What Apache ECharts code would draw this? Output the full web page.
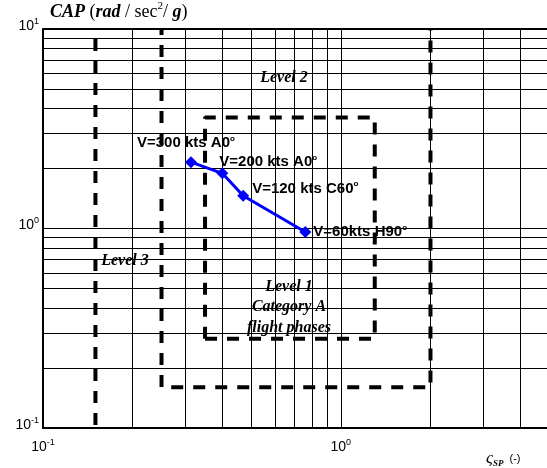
<!DOCTYPE html>
<html>
<head>
<meta charset="utf-8">
<script src="https://cdn.jsdelivr.net/npm/echarts@6/dist/echarts.min.js"></script>
<style>
  html, body { margin: 0; padding: 0; background: #ffffff; }
  #chart { width: 547px; height: 468px; }
</style>
</head>
<body>
<div id="chart"></div>
<script>
// Flight conditions: short-period damping ratio vs CAP
const dampingRatio = [0.314, 0.40, 0.47, 0.76];
const capValues = [2.15, 1.89, 1.46, 0.96];
const pointNames = ['V=300 kts A0', 'V=200 kts A0', 'V=120 kts C60', 'V=60kts H90'];

// Flying-quality level boundaries
const level1Damping = [0.35, 1.3, 1.3, 0.35, 0.35];
const level1Cap = [0.28, 0.28, 3.6, 3.6, 0.28];
const level2Damping = [0.25, 0.25, 2.0, 2.0];
const level2Cap = [10, 0.16, 0.16, 10];
const level3Damping = [0.15, 0.15];
const level3Cap = [10, 0.1];

// Log grid positions
const xGridValues = [0.2, 0.3, 0.4, 0.5, 0.6, 0.7, 0.8, 0.9, 1, 2, 3, 4];
const yGridValues = [0.2, 0.3, 0.4, 0.5, 0.6, 0.7, 0.8, 0.9, 1, 2, 3, 4, 5, 6, 7, 8, 9];
const yTopValue = 10;

// Axis ranges
const xMin = 0.1, xMax = 5;
const yMin = 0.1, yMax = 10;

// label placement for each point: [dx, dy] from the 'right' anchor
const labelOffsets = [[-60, -19], [-9, -11], [3, -7], [2, 0]];

const zip = (xs, ys) => xs.map((x, i) => [x, ys[i]]);

const dashStyle = { color: '#000', width: 4, type: [12, 10], cap: 'butt' };

const powerLabel = (v) => {
  const lg = Math.log10(v);
  const e = Math.round(lg);
  if (Math.abs(lg - e) > 1e-6) return '';
  return '{b|10}{s|' + e + '}';
};
const powerRich = {
  b: { fontFamily: 'Liberation Sans', fontSize: 14, color: '#000', lineHeight: 18 },
  s: { fontFamily: 'Liberation Sans', fontSize: 9, color: '#000', lineHeight: 9, verticalAlign: 'top' }
};

const chart = echarts.init(document.getElementById('chart'), null, { renderer: 'canvas' });

const gridLines = [];
xGridValues.forEach(v => gridLines.push({ xAxis: v }));
yGridValues.forEach(v => gridLines.push({ yAxis: v }));

chart.setOption({
  animation: false,
  backgroundColor: '#ffffff',
  grid: { left: 43, top: 29, width: 506, height: 399, containLabel: false, outerBoundsMode: 'none' },
  xAxis: {
    type: 'log', logBase: 10, min: xMin, max: xMax,
    axisLine: { show: true, onZero: false, lineStyle: { color: '#000', width: 2 } },
    axisTick: { show: false },
    splitLine: { show: false },
    minorTick: { show: false },
    axisLabel: { margin: 10, formatter: powerLabel, rich: powerRich, showMinLabel: true, showMaxLabel: true }
  },
  yAxis: {
    type: 'log', logBase: 10, min: yMin, max: yMax,
    axisLine: { show: true, onZero: false, lineStyle: { color: '#000', width: 2 } },
    axisTick: { show: false },
    splitLine: { show: false },
    minorTick: { show: false },
    axisLabel: { margin: 4, formatter: powerLabel, rich: powerRich, padding: [0, 0, 6, 0], showMinLabel: true, showMaxLabel: true }
  },
  series: [
    {
      name: 'grid', type: 'line', data: [], silent: true, z: 1,
      markLine: {
        silent: true, symbol: ['none', 'none'], animation: false,
        label: { show: false },
        lineStyle: { color: '#000', width: 1, type: 'solid' },
        emphasis: { disabled: true },
        data: gridLines.concat([{ yAxis: yTopValue, lineStyle: { width: 2 } }])
      }
    },
    {
      name: 'Level 3', type: 'line', data: zip(level3Damping, level3Cap), z: 2,
      symbol: 'none', lineStyle: Object.assign({}, dashStyle, { dashOffset: 12 }), silent: true
    },
    {
      name: 'Level 2', type: 'line', data: zip(level2Damping, level2Cap), z: 2,
      symbol: 'none', lineStyle: Object.assign({}, dashStyle, { dashOffset: 6 }), silent: true
    },
    {
      name: 'Level 1', type: 'line', data: zip(level1Damping, level1Cap), z: 2,
      symbol: 'none', lineStyle: dashStyle, silent: true
    },
    {
      name: 'Flight conditions', type: 'line', z: 5,
      data: dampingRatio.map((x, i) => ({
        value: [x, capValues[i]],
        label: {
          show: true, position: 'right', distance: 0,
          offset: labelOffsets[i],
          formatter: '{a|' + pointNames[i] + '}{o|o}',
          rich: {
            a: { fontFamily: 'Liberation Sans', fontWeight: 'bold', fontSize: 15, color: '#000', lineHeight: 17 },
            o: { fontFamily: 'Liberation Sans', fontWeight: 'bold', fontSize: 8, color: '#000', lineHeight: 8, verticalAlign: 'top' }
          }
        }
      })),
      symbol: 'diamond', symbolSize: 12,
      itemStyle: { color: '#0000ff' },
      lineStyle: { color: '#0000ff', width: 3 }
    }
  ],
  graphic: [
    {
      type: 'text', x: 50, y: 12, z: 10,
      style: {
        text: '{c|CAP}{n| (}{i|rad}{n| / sec}{s|2}{n|/ }{i|g}{n|)}',
        textVerticalAlign: 'middle', verticalAlign: 'middle',
        rich: {
          c: { fontFamily: 'Liberation Serif', fontStyle: 'italic', fontWeight: 'bold', fontSize: 18, lineHeight: 22, fill: '#000' },
          i: { fontFamily: 'Liberation Serif', fontStyle: 'italic', fontWeight: 'bold', fontSize: 18, lineHeight: 22, fill: '#000' },
          n: { fontFamily: 'Liberation Serif', fontSize: 18, lineHeight: 22, fill: '#000' },
          s: { fontFamily: 'Liberation Serif', fontSize: 11, lineHeight: 11, verticalAlign: 'top', fill: '#000' }
        }
      }
    },
    {
      type: 'text', x: 486, y: 459, z: 10,
      style: {
        text: '{g|ς}{p|SP}{n|  (-)}',
        textVerticalAlign: 'middle', verticalAlign: 'middle',
        rich: {
          g: { fontFamily: 'Liberation Serif', fontStyle: 'italic', fontSize: 17, lineHeight: 18, fill: '#000' },
          p: { fontFamily: 'Liberation Serif', fontStyle: 'italic', fontWeight: 'bold', fontSize: 9, lineHeight: 9, verticalAlign: 'bottom', fill: '#000' },
          n: { fontFamily: 'Liberation Sans', fontSize: 11, lineHeight: 14, fill: '#000' }
        }
      }
    },
    {
      type: 'text', x: 284, y: 78, z: 10,
      style: { text: 'Level 2', font: 'italic bold 16px "Liberation Serif"', fill: '#000',
        textAlign: 'center', align: 'center', textVerticalAlign: 'middle', verticalAlign: 'middle' }
    },
    {
      type: 'text', x: 125, y: 261, z: 10,
      style: { text: 'Level 3', font: 'italic bold 16px "Liberation Serif"', fill: '#000',
        textAlign: 'center', align: 'center', textVerticalAlign: 'middle', verticalAlign: 'middle' }
    },
    {
      type: 'text', x: 289, y: 307, z: 10,
      style: { text: 'Level 1\nCategory A\nflight phases', font: 'italic bold 16px "Liberation Serif"', fill: '#000',
        lineHeight: 20.5,
        textAlign: 'center', align: 'center', textVerticalAlign: 'middle', verticalAlign: 'middle' }
    }
  ]
});
</script>
</body>
</html>
